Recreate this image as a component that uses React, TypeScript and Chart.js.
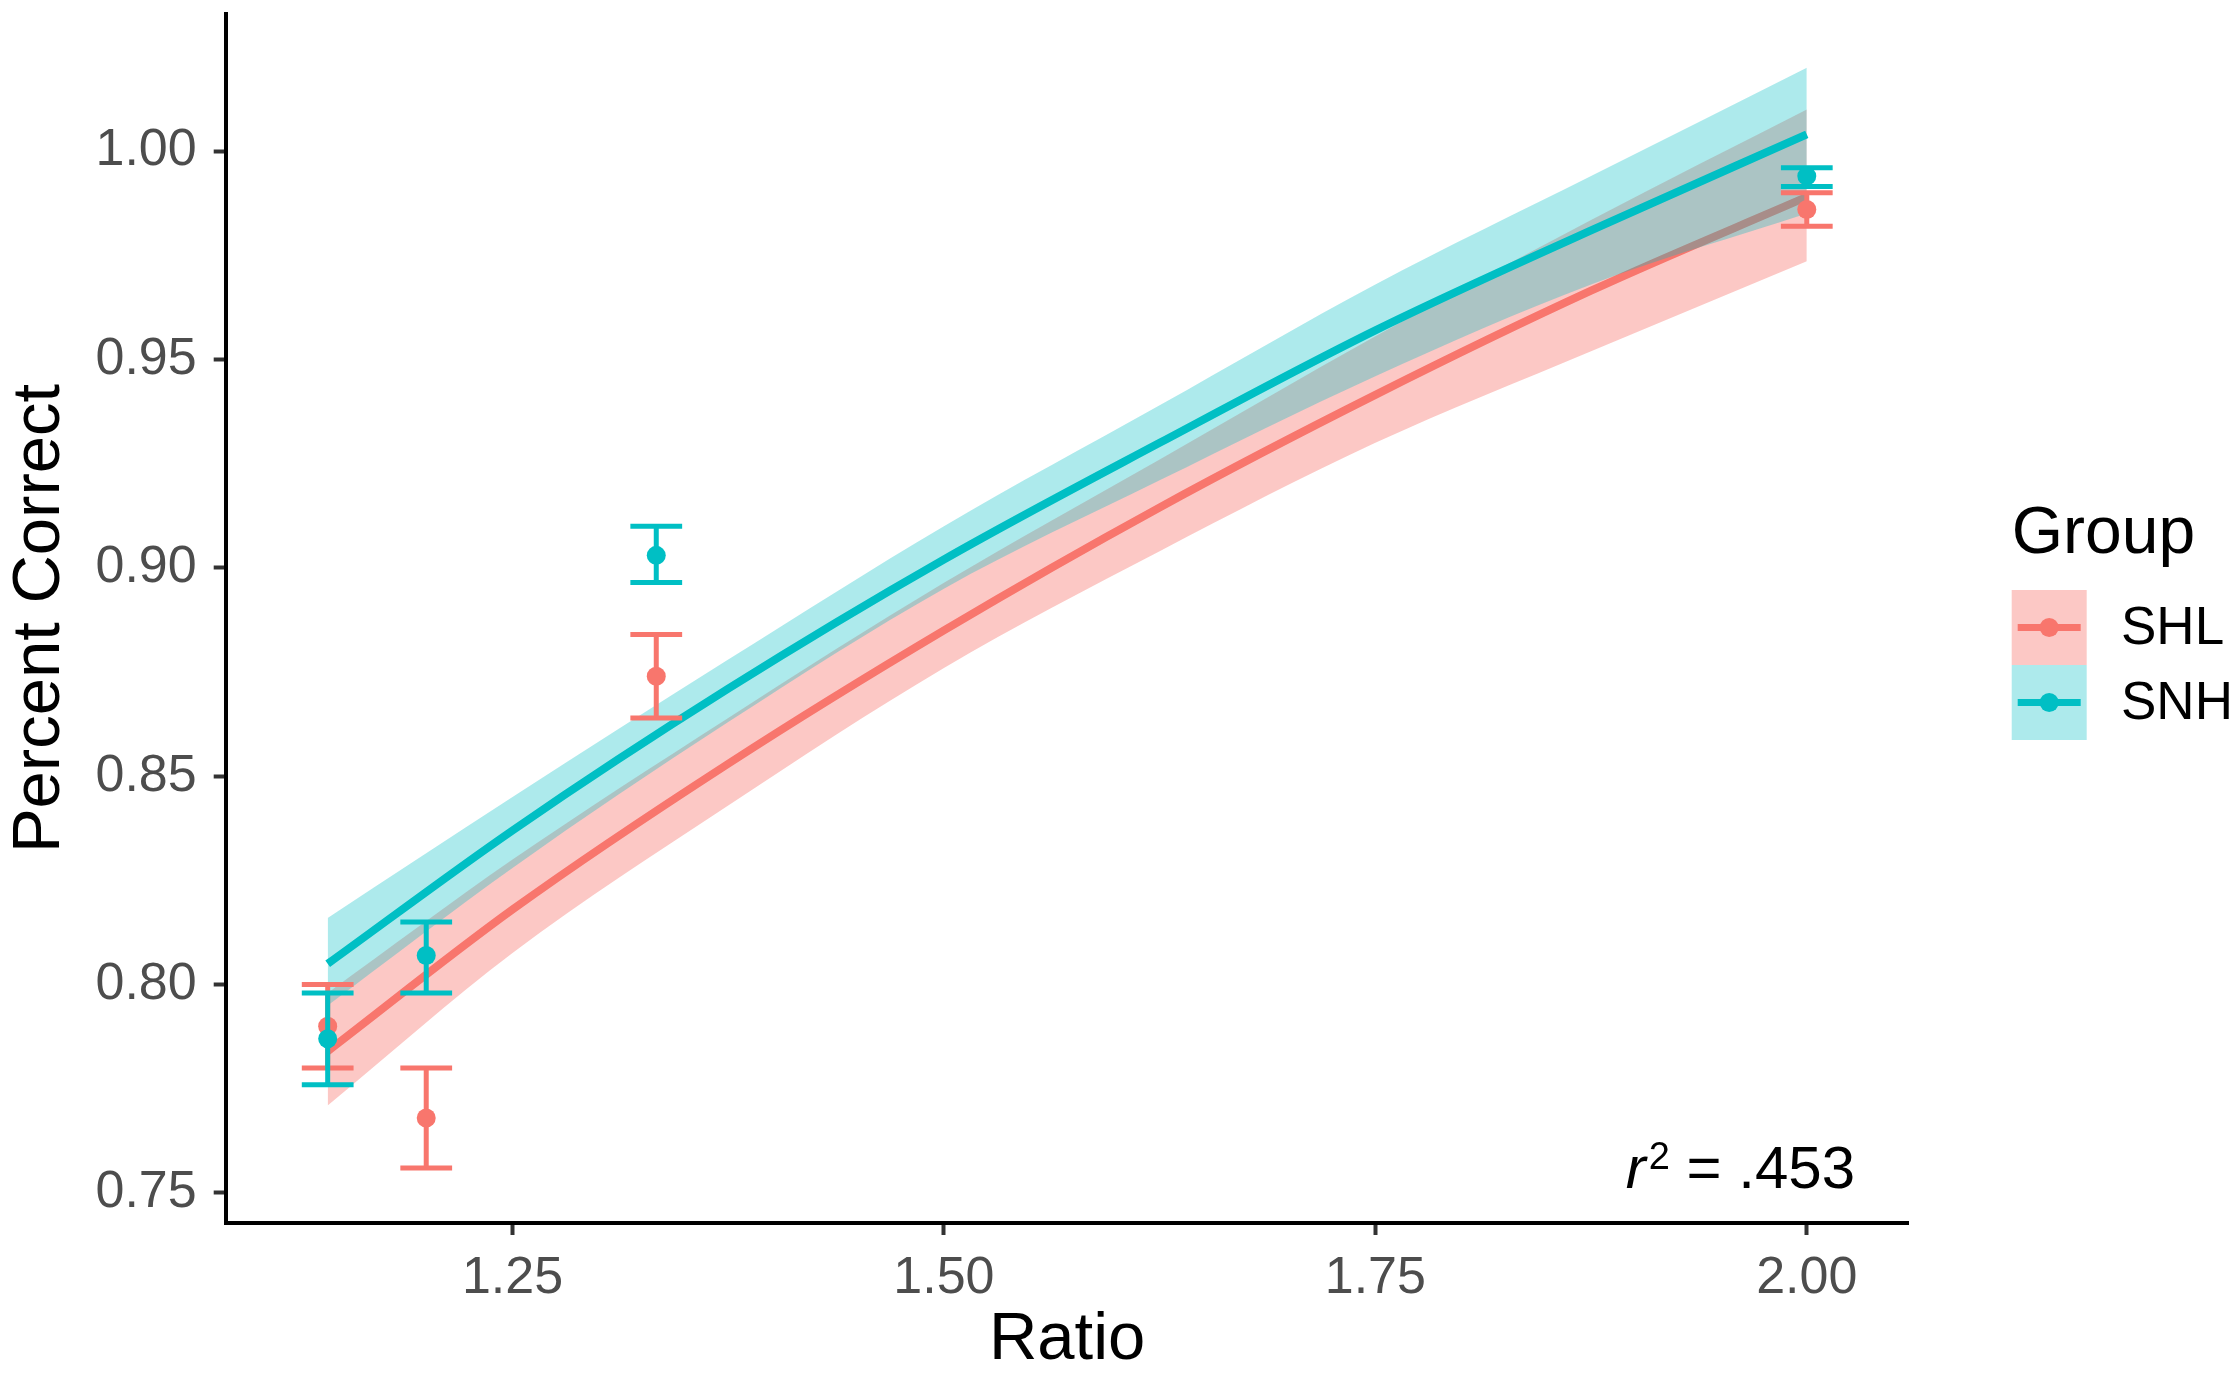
import React, { useEffect, useRef } from 'react';
import { Chart, registerables } from 'chart.js';

Chart.register(...registerables);

// ---- data ----
const groups = ['SHL', 'SNH'];
const groupColors = ['#F8766D', '#00BFC4'];
const ribbonColors = ['rgba(248,118,109,0.4)', 'rgba(0,191,196,0.32)'];

const pointRatios = [1.1429, 1.2, 1.3333, 2.0];
const shlMean = [0.790, 0.768, 0.874, 0.986];
const shlLo = [0.780, 0.756, 0.864, 0.982];
const shlHi = [0.800, 0.780, 0.884, 0.990];
const snhMean = [0.787, 0.807, 0.903, 0.994];
const snhLo = [0.776, 0.798, 0.8965, 0.9915];
const snhHi = [0.798, 0.815, 0.910, 0.996];

const fitRatios = [1.1429, 1.25, 1.375, 1.5, 1.625, 1.75, 1.875, 2.0];
const shlFit = [0.784, 0.818, 0.853, 0.885, 0.9145, 0.9415, 0.9665, 0.989];
const shlFitLo = [0.771, 0.8076, 0.843, 0.876, 0.904, 0.930, 0.952, 0.9736];
const shlFitHi = [0.798, 0.830, 0.864, 0.8964, 0.926, 0.9556, 0.9835, 1.010];
const snhFit = [0.805, 0.837, 0.871, 0.902, 0.930, 0.957, 0.981, 1.004];
const snhFitLo = [0.795, 0.828, 0.863, 0.895, 0.921, 0.946, 0.968, 0.985];
const snhFitHi = [0.816, 0.845, 0.878, 0.910, 0.939, 0.968, 0.994, 1.020];

const xTicks = [1.25, 1.5, 1.75, 2.0];
const xTickLabels = ['1.25', '1.50', '1.75', '2.00'];
const yTicks = [0.75, 0.8, 0.85, 0.9, 0.95, 1.0];
const yTickLabels = ['0.75', '0.80', '0.85', '0.90', '0.95', '1.00'];

const r2Text = '.453';
const r2Pos = { x: 2.028, y: 0.7513 };
const errWidth = 0.03;

const FONT = '"Liberation Sans", Arial, Helvetica, sans-serif';

const pts = (xs: number[], ys: number[]) => xs.map((x, i) => ({ x, y: ys[i] }));

const errorBarPlugin = {
  id: 'errorBars',
  beforeDatasetDraw(chart: any, args: any) {
    const ds = chart.data.datasets[args.index];
    if (!ds.errLo) return;
    const ctx = chart.ctx;
    const xs = chart.scales.x;
    const ys = chart.scales.y;
    ctx.save();
    ctx.strokeStyle = ds.errColor;
    ctx.lineWidth = 5;
    ctx.lineCap = 'butt';
    ds.data.forEach((p: any, i: number) => {
      const px = xs.getPixelForValue(p.x);
      const xl = xs.getPixelForValue(p.x - errWidth / 2);
      const xr = xs.getPixelForValue(p.x + errWidth / 2);
      const lo = ys.getPixelForValue(ds.errLo[i]);
      const hi = ys.getPixelForValue(ds.errHi[i]);
      ctx.beginPath();
      ctx.moveTo(px, lo);
      ctx.lineTo(px, hi);
      ctx.moveTo(xl, lo);
      ctx.lineTo(xr, lo);
      ctx.moveTo(xl, hi);
      ctx.lineTo(xr, hi);
      ctx.stroke();
    });
    ctx.restore();
  },
};

const overlayPlugin = {
  id: 'overlay',
  afterDraw(chart: any) {
    const ctx = chart.ctx;
    const xs = chart.scales.x;
    const ys = chart.scales.y;
    ctx.save();
    // r^2 annotation (right aligned)
    const mainFont = `60px ${FONT}`;
    const italFont = `italic 60px ${FONT}`;
    const supFont = `38px ${FONT}`;
    ctx.font = italFont;
    const wR = ctx.measureText('r').width;
    ctx.font = supFont;
    const w2 = ctx.measureText('2').width;
    ctx.font = mainFont;
    const rest = ' = ' + r2Text;
    const wRest = ctx.measureText(rest).width;
    const right = xs.getPixelForValue(r2Pos.x);
    const base = ys.getPixelForValue(r2Pos.y);
    let x = right - (wR + 3 + w2 + wRest);
    ctx.fillStyle = '#000';
    ctx.textBaseline = 'alphabetic';
    ctx.textAlign = 'left';
    ctx.font = italFont;
    ctx.fillText('r', x, base);
    x += wR + 3;
    ctx.font = supFont;
    ctx.fillText('2', x, base - 19);
    x += w2;
    ctx.font = mainFont;
    ctx.fillText(rest, x, base);

    // legend
    const lx = 2011.7;
    ctx.font = `66px ${FONT}`;
    ctx.fillStyle = '#000';
    ctx.fillText('Group', lx, 553);
    groups.forEach((g, i) => {
      const y0 = 590 + i * 75;
      ctx.fillStyle = ribbonColors[i];
      ctx.fillRect(lx, y0, 75, 75);
      ctx.strokeStyle = groupColors[i];
      ctx.lineWidth = 7;
      ctx.beginPath();
      ctx.moveTo(lx + 6, y0 + 37.5);
      ctx.lineTo(lx + 69, y0 + 37.5);
      ctx.stroke();
      ctx.fillStyle = groupColors[i];
      ctx.beginPath();
      ctx.arc(lx + 37.5, y0 + 37.5, 9.5, 0, Math.PI * 2);
      ctx.fill();
      ctx.fillStyle = '#000';
      ctx.font = `53px ${FONT}`;
      ctx.textBaseline = 'middle';
      ctx.fillText(g, 2121, y0 + 39);
      ctx.textBaseline = 'alphabetic';
    });
    ctx.restore();
  },
};

export default function App() {
  const canvasRef = useRef<HTMLCanvasElement | null>(null);

  useEffect(() => {
    if (!canvasRef.current) return;
    const lineBase = {
      type: 'line' as const,
      pointRadius: 0,
      cubicInterpolationMode: 'monotone' as const,
    };
    const chart = new Chart(canvasRef.current, {
      type: 'line',
      data: {
        datasets: [
          { ...lineBase, data: pts(fitRatios, shlFitLo), borderWidth: 0, borderColor: 'rgba(0,0,0,0)', fill: false, order: 10 },
          { ...lineBase, data: pts(fitRatios, shlFitHi), borderWidth: 0, borderColor: 'rgba(0,0,0,0)', backgroundColor: ribbonColors[0], fill: 0, order: 9 },
          { ...lineBase, data: pts(fitRatios, shlFit), borderWidth: 8, borderColor: groupColors[0], fill: false, order: 8 },
          { ...lineBase, data: pts(fitRatios, snhFitLo), borderWidth: 0, borderColor: 'rgba(0,0,0,0)', fill: false, order: 7 },
          { ...lineBase, data: pts(fitRatios, snhFitHi), borderWidth: 0, borderColor: 'rgba(0,0,0,0)', backgroundColor: ribbonColors[1], fill: 3, order: 6 },
          { ...lineBase, data: pts(fitRatios, snhFit), borderWidth: 8, borderColor: groupColors[1], fill: false, order: 5 },
          {
            type: 'line', data: pts(pointRatios, shlMean), showLine: false, pointRadius: 9.5, pointBorderWidth: 0,
            pointBackgroundColor: groupColors[0], borderColor: groupColors[0], fill: false, order: 4,
            errLo: shlLo, errHi: shlHi, errColor: groupColors[0],
          } as any,
          {
            type: 'line', data: pts(pointRatios, snhMean), showLine: false, pointRadius: 9.5, pointBorderWidth: 0,
            pointBackgroundColor: groupColors[1], borderColor: groupColors[1], fill: false, order: 3,
            errLo: snhLo, errHi: snhHi, errColor: groupColors[1],
          } as any,
        ],
      },
      options: {
        animation: false,
        responsive: true,
        maintainAspectRatio: false,
        devicePixelRatio: 1,
        layout: { padding: { left: 0, top: 14, right: 331.4, bottom: 0 } },
        plugins: {
          legend: { display: false },
          tooltip: { enabled: false },
          filler: { propagate: false, drawTime: 'beforeDatasetDraw' },
        } as any,
        scales: {
          x: {
            type: 'linear',
            min: 1.0838,
            max: 2.059,
            afterBuildTicks: (s: any) => { s.ticks = xTicks.map((v) => ({ value: v })); },
            afterFit: (s: any) => { s.height = 158; s.paddingLeft = 0; s.paddingRight = 0; },
            ticks: {
              callback: (v: any) => xTickLabels[xTicks.indexOf(Number(v))] ?? '',
              font: { family: FONT, size: 52 },
              color: '#4D4D4D',
              padding: 12,
              maxRotation: 0,
              autoSkip: false,
            },
            grid: { drawOnChartArea: false, drawTicks: true, tickLength: 12, tickWidth: 4, tickColor: '#333333' },
            border: { display: true, color: '#000000', width: 4 },
            title: { display: true, text: 'Ratio', font: { family: FONT, size: 67, lineHeight: 1.2 }, color: '#000', padding: 0 },
          },
          y: {
            type: 'linear',
            min: 0.7428,
            max: 1.0329,
            afterBuildTicks: (s: any) => { s.ticks = yTicks.map((v) => ({ value: v })); },
            afterFit: (s: any) => { s.width = 225.7; s.paddingTop = 0; s.paddingBottom = 0; },
            ticks: {
              callback: (v: any) => {
                const i = yTicks.findIndex((t) => Math.abs(t - Number(v)) < 1e-9);
                return i >= 0 ? yTickLabels[i] : '';
              },
              font: { family: FONT, size: 52 },
              color: '#4D4D4D',
              padding: 17,
              autoSkip: false,
            },
            grid: { drawOnChartArea: false, drawTicks: true, tickLength: 12, tickWidth: 4, tickColor: '#333333' },
            border: { display: true, color: '#000000', width: 4 },
            title: { display: true, text: 'Percent Correct', font: { family: FONT, size: 67, lineHeight: 1.2 }, color: '#000', padding: { top: 0, bottom: 0 } },
          },
        },
      } as any,
      plugins: [errorBarPlugin, overlayPlugin],
    });
    return () => chart.destroy();
  }, []);

  return (
    <div style={{ position: 'absolute', left: 0, top: 0, width: 2240, height: 1381, background: '#ffffff' }}>
      <canvas ref={canvasRef} />
    </div>
  );
}
